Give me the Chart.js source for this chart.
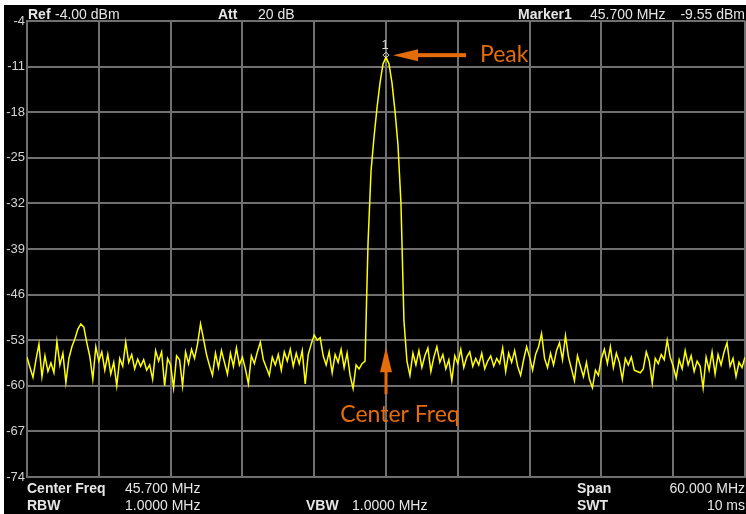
<!DOCTYPE html>
<html>
<head>
<meta charset="utf-8">
<script src="https://cdn.jsdelivr.net/npm/chart.js@4.4.1/dist/chart.umd.min.js"></script>
<style>
  html, body { margin: 0; padding: 0; background: #fff; }
  #spec { display: block; }
</style>
</head>
<body>
<canvas id="spec" width="746" height="514"></canvas>
<script>
// Sweep settings (60 MHz span around 45.7 MHz)
const freqStart = 15.7;
const freqStep = 0.25;
const gridFreqs = [15.7, 21.7, 27.7, 33.7, 39.7, 45.7, 51.7, 57.7, 63.7, 69.7, 75.7];
const levelTicks = [-74, -67, -60, -53, -46, -39, -32, -25, -18, -11, -4];

// Trace levels in dBm
const noiseLeft = [
    -55.6, -57.2, -58.7, -56.0, -53.6, -58.6, -55.4, -57.8, -56.5, -58.0,
    -53.2, -56.8, -55.0, -59.5, -55.8, -54.0, -52.8, -51.3, -50.5, -51.0,
    -53.4, -55.5, -59.0, -54.0, -56.2, -54.8, -57.6, -55.2, -58.2, -56.4,
    -60.0, -55.8, -57.0, -53.3, -56.4, -55.2, -57.4, -55.9, -57.0, -56.0,
    -57.6, -56.8, -59.0, -54.6, -56.2, -54.8, -60.0, -55.8, -56.8, -60.3,
    -55.4, -56.0, -60.0, -54.8, -56.6, -54.4, -55.8, -53.6, -50.5, -52.8,
    -55.2, -56.9, -58.4, -55.0, -57.2, -54.6, -56.4, -58.2, -55.0, -57.0,
    -54.2, -56.8, -55.6, -57.4, -59.7, -55.4, -56.6, -54.8, -53.3, -56.0,
    -57.2, -58.4, -55.6, -56.8, -55.2, -57.6, -54.8, -56.2, -54.4, -57.0,
    -55.0, -56.6, -54.6, -59.7, -55.2, -53.6, -52.2, -53.0, -52.6, -55.4,
    -56.8, -54.8, -58.0, -55.2, -56.4, -54.4, -57.2, -55.0, -58.4, -60.4,
    -56.8, -57.4, -56.6
];
const peakLevels = [
    -56.2, -38, -27, -21.8, -17.3, -13.5, -10.6, -9.55,
    -10.6, -13.5, -17.8, -23, -32, -50, -56.2
];
const noiseRight = [
    -58.4, -55.0, -56.8, -54.6, -57.2, -55.4, -54.2, -57.8, -55.6, -54.0,
    -56.4, -55.2, -57.4, -56.0, -59.2, -55.4, -56.6, -54.4, -57.2, -55.6,
    -54.8, -57.0, -55.8, -56.8, -55.0, -57.4, -56.2, -55.4, -57.0, -55.8,
    -56.6, -54.2, -57.8, -55.0, -56.4, -54.6, -57.0, -58.4, -56.0, -54.0,
    -55.6, -57.6, -55.2, -54.0, -52.0, -55.8, -57.2, -55.0, -56.8, -54.6,
    -53.4, -56.0, -52.3, -55.6, -57.4, -59.2, -55.4, -57.0, -58.6, -56.4,
    -59.0, -60.3, -57.6, -58.4, -55.8, -54.4, -56.6, -54.0, -57.2, -55.0,
    -56.4, -59.0, -55.8, -56.8, -55.6, -57.6, -57.8, -58.0, -57.4, -54.8,
    -56.2, -59.6, -55.8, -56.6, -55.2, -56.0, -53.0, -55.6, -57.0, -58.8,
    -56.0, -57.4, -54.6, -56.8, -55.4, -57.8, -56.2, -57.0, -60.3, -55.6,
    -57.6, -54.8, -58.2, -55.2, -56.8, -54.8, -53.4, -57.0, -55.8, -58.6,
    -56.4, -57.2, -55.6
];

// Marker 1
const markerFreq = 45.7;
const markerLevel = -9.55;

const traceLevels = noiseLeft.concat(peakLevels, noiseRight);
const tracePoints = traceLevels.map((v, i) => ({ x: +(freqStart + i * freqStep).toFixed(2), y: v }));

const GRID = '#707070';
const TEXT = '#e6e6e6';
const ORANGE = '#e46c0a';
const FONT = '"Liberation Sans", Arial, sans-serif';

// Black screen behind everything
const screenBg = {
    id: 'screenBg',
    beforeDraw(chart) {
        const c = chart.ctx;
        c.save();
        c.fillStyle = '#000';
        c.fillRect(4, 5, chart.width - 4, chart.height - 5);
        c.restore();
    }
};

function txt(c, s, x, y, bold, align) {
    c.font = (bold ? 'bold ' : '') + '14px ' + FONT;
    c.textAlign = align || 'left';
    c.fillText(s, x, y);
}

// Header, footer, marker and callouts
const overlay = {
    id: 'overlay',
    afterDraw(chart) {
        const c = chart.ctx;
        const xs = chart.scales.x, ys = chart.scales.y;
        c.save();
        c.fillStyle = TEXT;
        c.textBaseline = 'alphabetic';
        txt(c, 'Ref', 28, 19, true);
        txt(c, '-4.00 dBm', 55, 19);
        txt(c, 'Att', 218, 19, true);
        txt(c, '20 dB', 258, 19);
        txt(c, 'Marker1', 518, 19, true);
        txt(c, '45.700 MHz', 590, 19);
        txt(c, '-9.55 dBm', 745, 19, false, 'right');

        txt(c, 'Center Freq', 27, 493, true);
        txt(c, '45.700 MHz', 125, 493);
        txt(c, 'Span', 577, 493, true);
        txt(c, '60.000 MHz', 745, 493, false, 'right');
        txt(c, 'RBW', 27, 510, true);
        txt(c, '1.0000 MHz', 125, 510);
        txt(c, 'VBW', 306, 510, true);
        txt(c, '1.0000 MHz', 352, 510);
        txt(c, 'SWT', 577, 510, true);
        txt(c, '10 ms', 745, 510, false, 'right');

        // marker diamond + label
        const mx = xs.getPixelForValue(markerFreq);
        const my = ys.getPixelForValue(markerLevel) - 2;
        c.strokeStyle = '#d8d8d8';
        c.lineWidth = 1;
        c.beginPath();
        c.moveTo(mx, my - 3); c.lineTo(mx + 3, my); c.lineTo(mx, my + 3); c.lineTo(mx - 3, my); c.closePath();
        c.stroke();
        c.fillStyle = '#d8d8d8';
        c.font = '13px ' + FONT;
        c.textAlign = 'center';
        c.fillText('1', mx - 1, my - 6);

        // "Peak" arrow
        c.fillStyle = ORANGE;
        c.fillRect(mx + 31, my - 2, 49, 4);
        c.beginPath();
        c.moveTo(mx + 7, my); c.lineTo(mx + 32, my - 6); c.lineTo(mx + 32, my + 6); c.closePath();
        c.fill();
        c.font = '23px Lato, ' + FONT;
        c.textAlign = 'left';
        c.textBaseline = 'middle';
        c.fillText('Peak', mx + 94, my - 1);

        // "Center Freq" arrow
        const cy = ys.getPixelForValue(-53);
        c.fillRect(mx - 1.5, cy + 30, 3, 24);
        c.beginPath();
        c.moveTo(mx, cy + 7); c.lineTo(mx + 6, cy + 32); c.lineTo(mx - 6, cy + 32); c.closePath();
        c.fill();
        c.textAlign = 'center';
        c.fillText('Center Freq', mx + 14, cy + 74);
        c.restore();
    }
};

new Chart(document.getElementById('spec'), {
    type: 'line',
    data: {
        datasets: [{
            data: tracePoints,
            borderColor: '#ffff00',
            borderWidth: 1.5,
            pointRadius: 0,
            tension: 0,
            fill: false
        }]
    },
    options: {
        responsive: false,
        animation: false,
        devicePixelRatio: 1,
        layout: { padding: { top: 21, right: 1, bottom: 37, left: 0 } },
        plugins: { legend: { display: false }, tooltip: { enabled: false } },
        scales: {
            x: {
                type: 'linear',
                min: 15.7,
                max: 75.7,
                afterBuildTicks: (s) => { s.ticks = gridFreqs.map(v => ({ value: v })); },
                afterFit: (s) => { s.height = 0; },
                ticks: { display: false },
                grid: { color: GRID, lineWidth: 2, drawTicks: false },
                border: { color: GRID, width: 2 }
            },
            y: {
                min: -74,
                max: -4,
                afterBuildTicks: (s) => { s.ticks = levelTicks.map(v => ({ value: v })); },
                afterFit: (s) => { s.width = 27; },
                ticks: { color: '#d4d4d4', padding: 2, font: { family: FONT, size: 13 } },
                grid: { color: GRID, lineWidth: 2, drawTicks: false },
                border: { color: GRID, width: 2 }
            }
        }
    },
    plugins: [screenBg, overlay]
});
</script>
</body>
</html>
